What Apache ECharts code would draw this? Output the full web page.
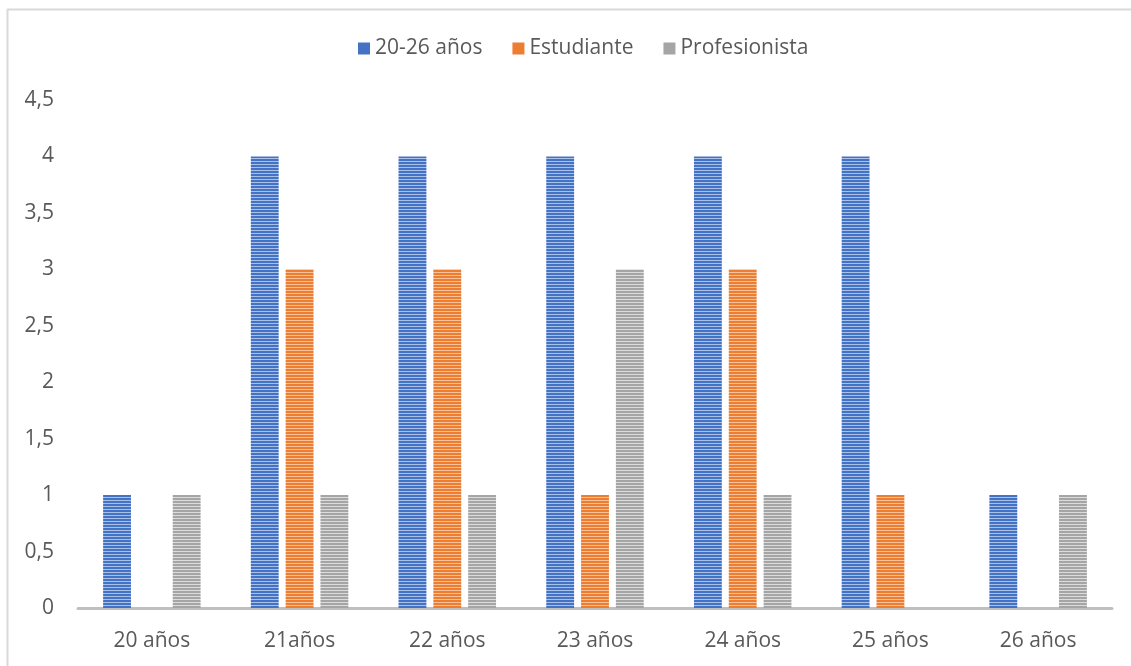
<!DOCTYPE html>
<html>
<head>
<meta charset="utf-8">
<script src="https://cdn.jsdelivr.net/npm/echarts@6/dist/echarts.min.js"></script>
<style>
  html, body { margin: 0; padding: 0; background: #fff; }
  #chart { width: 1131px; height: 666px; }
</style>
</head>
<body>
<div id="chart"></div>
<script>
// datos
const categorias = ['20 años', '21años', '22 años', '23 años', '24 años', '25 años', '26 años'];
const nombres = ['20-26 años', 'Estudiante', 'Profesionista'];
const edad = [1, 4, 4, 4, 4, 4, 1];
const estudiante = [0, 3, 3, 1, 3, 1, 0];
const profesionista = [1, 1, 1, 3, 1, 0, 1];
const colores = ['#4472C4', '#ED7D31', '#A5A5A5'];
const claros = ['#a9c0e8', '#f6c09a', '#dcdcdc'];

// patron de rayas horizontales
function rayas(base, claro) {
  let c = document.createElement('canvas');
  c.width = 4;
  c.height = 3;
  let ctx = c.getContext('2d');
  ctx.fillStyle = base;
  ctx.fillRect(0, 0, 4, 3);
  ctx.fillStyle = claro;
  ctx.fillRect(0, 2, 4, 1);
  return { image: c, repeat: 'repeat' };
}

let myChart = echarts.init(document.getElementById('chart'));
const fuente = '"Open Sans", "DejaVu Sans", sans-serif';
const datos = [edad, estudiante, profesionista];

let option = {
  animation: false,
  textStyle: { fontFamily: fuente },
  legend: {
    top: 33,
    left: 353,
    itemWidth: 12,
    itemHeight: 12,
    itemGap: 30,
    itemTextGap: 4,
    icon: 'rect',
    textStyle: { color: '#595959', fontSize: 21, fontFamily: fuente },
    data: nombres.map((n, i) => ({ name: n, itemStyle: { color: colores[i] } }))
  },
  grid: { left: 78, right: 19, top: 100, bottom: 58 },
  xAxis: {
    type: 'category',
    data: categorias,
    axisLine: { lineStyle: { color: '#BFBFBF', width: 3 } },
    axisTick: { show: false },
    axisLabel: { color: '#595959', fontSize: 21, margin: 23, fontFamily: fuente }
  },
  yAxis: {
    type: 'value',
    min: 0,
    max: 4.5,
    interval: 0.5,
    splitLine: { show: false },
    axisLine: { show: false },
    axisLabel: {
      color: '#595959', fontSize: 21, margin: 24, fontFamily: fuente,
      formatter: v => String(v).replace('.', ',')
    }
  },
  graphic: [
    { type: 'line', shape: { x1: 7.5, y1: 9, x2: 7.5, y2: 666 }, style: { stroke: '#D9D9D9', lineWidth: 2 } },
    { type: 'line', shape: { x1: 7, y1: 9.5, x2: 1131, y2: 9.5 }, style: { stroke: '#D9D9D9', lineWidth: 2 } }
  ],
  series: nombres.map((n, i) => ({
    name: n,
    type: 'bar',
    barGap: '25%',
    barCategoryGap: '34%',
    itemStyle: { color: rayas(colores[i], claros[i]) },
    data: datos[i].map(v => v === 0 ? null : v)
  }))
};

myChart.setOption(option);
</script>
</body>
</html>
